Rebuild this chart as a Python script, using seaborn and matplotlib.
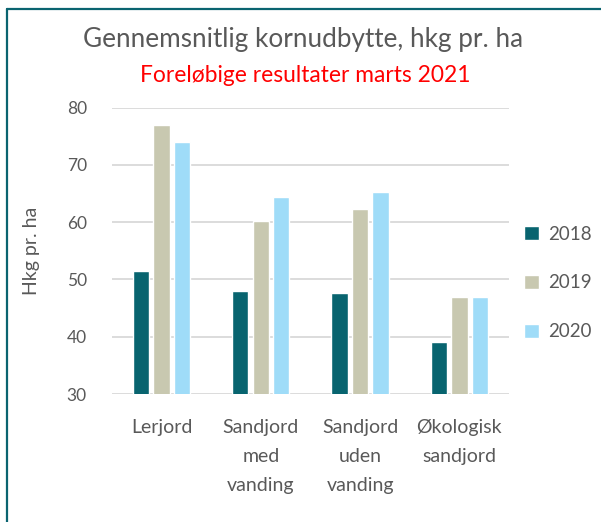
import pandas as pd
import matplotlib.pyplot as plt
from matplotlib.lines import Line2D
import seaborn as sns

# Data
categories = ["Lerjord", "Sandjord\nmed\nvanding", "Sandjord\nuden\nvanding", "Økologisk\nsandjord"]
years = ["2018", "2019", "2020"]
y2018 = [51.4, 48.0, 47.7, 39.1]
y2019 = [77.0, 60.2, 62.3, 47.0]
y2020 = [74.0, 64.4, 65.3, 47.0]
yticks = [30, 40, 50, 60, 70, 80]

df = pd.DataFrame({
    "Jordtype": categories * 3,
    "Aar": ["2018"] * 4 + ["2019"] * 4 + ["2020"] * 4,
    "Udbytte": y2018 + y2019 + y2020,
})

palette = {"2018": "#08646f", "2019": "#c8c8b0", "2020": "#9fdcf8"}
grey = "#595959"

sns.set_style("white")
plt.rcParams['font.family'] = ['Lato', 'DejaVu Sans']

fig = plt.figure(figsize=(6.01, 5.22), dpi=100)
ax = fig.add_axes([0.186, 0.245, 0.661, 0.549])

sns.barplot(data=df, x="Jordtype", y="Udbytte", hue="Aar", order=categories,
            hue_order=years, palette=palette, width=0.62, gap=0.2,
            saturation=1, ax=ax, legend=True)

ax.set_ylim(30, 80)
ax.set_yticks(yticks)
ax.yaxis.grid(True, color="#d9d9d9", linewidth=1.3)
ax.set_axisbelow(True)
sns.despine(ax=ax, left=True, bottom=True)
ax.set_xlim(-0.5, 3.5)

ax.tick_params(axis="y", length=0, pad=18, labelsize=12.5, labelcolor=grey)
ax.tick_params(axis="x", length=0, pad=18, labelsize=14, labelcolor=grey)
plt.setp(ax.get_xticklabels(), linespacing=1.85)

ax.set_xlabel("")
ax.set_ylabel("Hkg pr. ha", fontsize=14, color=grey)
ax.yaxis.set_label_coords(-0.181, 0.5)

ax.legend(loc="center left", bbox_to_anchor=(1.02, 0.388), frameon=False,
          fontsize=13.5, labelcolor=grey, handlelength=0.75, handleheight=0.75,
          handletextpad=0.5, labelspacing=1.7, borderaxespad=0)

fig.text(0.505, 1 - 39 / 522, "Gennemsnitlig kornudbytte, hkg pr. ha",
         ha="center", va="center", fontsize=18.8, color=grey)
fig.text(0.508, 1 - 76 / 522, "Foreløbige resultater marts 2021",
         ha="center", va="center", fontsize=16.4, color="#ff0000")

# frame around the chart
border = "#0a6470"
fig.add_artist(Line2D([7 / 601, 7 / 601], [0, 1 - 9 / 522], color=border, linewidth=1.6))
fig.add_artist(Line2D([7 / 601, 1], [1 - 9 / 522, 1 - 9 / 522], color=border, linewidth=1.6))

fig.savefig("out.png", dpi=100)
